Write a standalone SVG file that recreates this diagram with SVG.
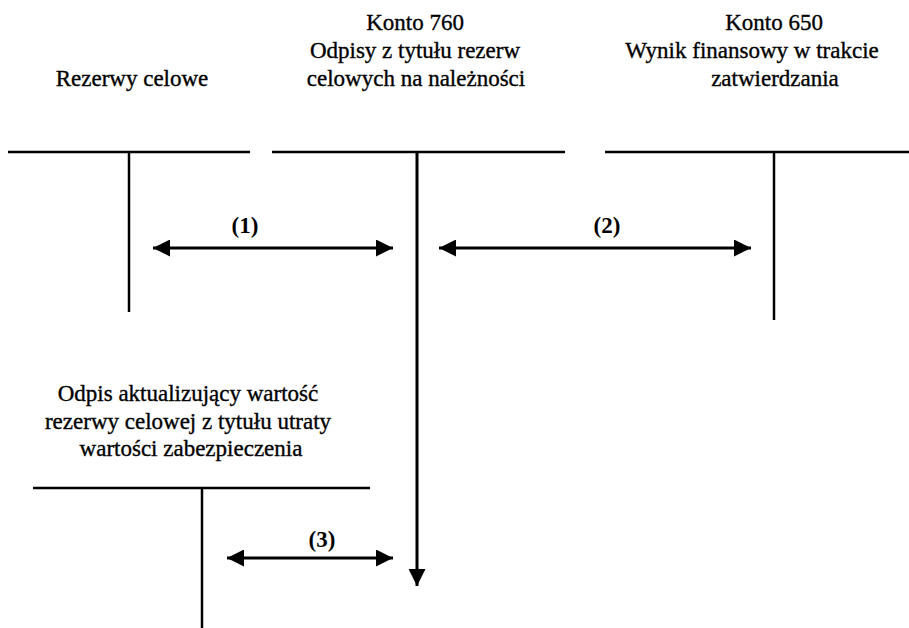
<svg xmlns="http://www.w3.org/2000/svg" width="909" height="628" viewBox="0 0 909 628">
<style>
text{font-family:'Liberation Serif','Times New Roman',Times,serif;fill:#000;text-anchor:middle}
.t{font-size:23px;stroke:#000;stroke-width:0.35}
.l{font-size:23px;font-weight:bold}
.ln{stroke:#000;stroke-width:2.5;fill:none}
.ar{stroke:#000;stroke-width:3;fill:none}
</style>
<defs>
<marker id="ah" markerUnits="userSpaceOnUse" markerWidth="17" markerHeight="17" viewBox="0 0 17 17" refX="17" refY="8.5" orient="auto-start-reverse">
<path d="M0,0 L17,8.5 L0,17 z" fill="#000"/>
</marker>
</defs>
<rect width="909" height="628" fill="#fff"/>
<g id="rezerwy-celowe">
<text class="t" x="132" y="86">Rezerwy celowe</text>
<line class="ln" x1="8" y1="152" x2="250" y2="152"/>
<line class="ln" x1="129" y1="152" x2="129" y2="312"/>
</g>
<g id="konto-760">
<text class="t" x="415" y="30">Konto 760</text>
<text class="t" x="415" y="58">Odpisy z tytułu rezerw</text>
<text class="t" x="416" y="86">celowych na należności</text>
<line class="ln" x1="272" y1="152" x2="565" y2="152"/>
</g>
<g id="konto-650">
<text class="t" x="774" y="30">Konto 650</text>
<text class="t" x="752" y="58">Wynik finansowy w trakcie</text>
<text class="t" x="775" y="86">zatwierdzania</text>
<line class="ln" x1="605" y1="152" x2="909" y2="152"/>
<line class="ln" x1="774" y1="152" x2="774" y2="320"/>
</g>
<g id="odpis-aktualizujacy">
<text class="t" x="188" y="401">Odpis aktualizujący wartość</text>
<text class="t" x="188" y="429">rezerwy celowej z tytułu utraty</text>
<text class="t" x="191" y="456">wartości zabezpieczenia</text>
<line class="ln" x1="33" y1="488" x2="370" y2="488"/>
<line class="ln" x1="202" y1="488" x2="202" y2="628"/>
</g>
<g id="connectors">
<line class="ar" x1="417" y1="152" x2="417" y2="586" marker-end="url(#ah)"/>
<line class="ar" x1="153" y1="248" x2="393" y2="248" marker-start="url(#ah)" marker-end="url(#ah)"/>
<text class="l" x="245" y="233">(1)</text>
<line class="ar" x1="439" y1="248" x2="751" y2="248" marker-start="url(#ah)" marker-end="url(#ah)"/>
<text class="l" x="607" y="233">(2)</text>
<line class="ar" x1="227" y1="558" x2="393" y2="558" marker-start="url(#ah)" marker-end="url(#ah)"/>
<text class="l" x="322" y="547">(3)</text>
</g>
</svg>
